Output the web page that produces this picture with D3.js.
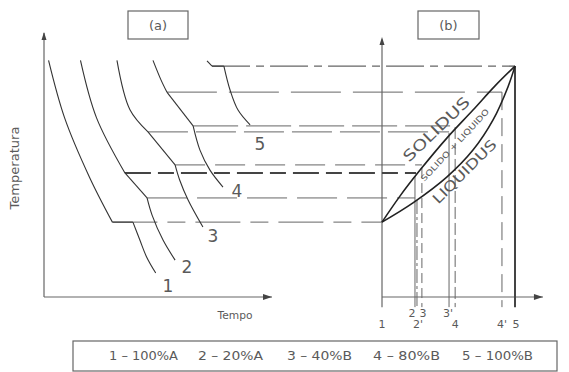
<!DOCTYPE html>
<html lang="pt">
<head>
<meta charset="UTF-8">
<title>Curvas de resfriamento e diagrama de fases</title>
<script src="https://d3js.org/d3.v7.min.js"></script>
<style>
  body { margin: 0; background: #fff; }
  text { font-family: "DejaVu Sans", sans-serif; fill: #5a5a5a; }
</style>
</head>
<body>
<svg width="569" height="372"></svg>
<script>
// (a) cooling curves: [tempo, temperatura], each curve split in pieces at the knees
const curve1 = [[[2, 91], [9, 69], [20, 46], [30, 28.8]], [[30, 28.8], [39, 28.8]], [[39, 28.8], [42, 22], [45, 15.4], [49, 9.2]]];
const curve2 = [[[16, 91], [23, 69], [35.5, 47.7]], [[35.5, 47.7], [45.2, 38.1]], [[45.2, 38.1], [47.4, 31.5], [52.2, 21.9], [57.5, 14.2]]];
const curve3 = [[[32, 91], [37.7, 72], [45.6, 63.5]], [[45.6, 63.5], [57.5, 50.8]], [[57.5, 50.8], [59.5, 45], [63.2, 37.3], [69.7, 26.9]]];
const curve4 = [[[47.8, 91], [51.3, 83.5], [53.9, 78.8]], [[53.9, 78.8], [65.4, 65.8]], [[65.4, 65.8], [68.4, 56.5], [72.8, 48.8], [78.5, 42.3]]];
const curve5 = [[[71.5, 90.8], [73.7, 88.8]], [[73.7, 88.8], [78.9, 88.8]], [[78.9, 88.8], [81.6, 79.6], [85.1, 71.9], [90.4, 66.2]]];
const curveNames = ["1", "2", "3", "4", "5"];
const curveNameAt = [[54.4, 1.9], [62.7, 9.2], [74.1, 21.2], [84.6, 38.5], [94.7, 56.5]];

// isotherms running from (a) into (b)
const isoTemp  = [88.8, 78.8, 65.8, 63.5, 50.8, 47.7, 38.1, 28.8];
const isoStart = [73.7, 53.9, 65.4, 45.6, 57.5, 35.5, 45.2, 30];   // tempo
const isoEnd   = [100, 90.2, 55, 50.4, 30, 25.6, 24.8, 0];         // %B

// (b) solidus / liquidus: [%B, temperatura]
const solidus  = [[0, 28.8], [13.5, 38.8], [28.6, 48.8], [48.9, 61.2], [68.4, 71.9], [85, 81.2], [100, 88.8]];
const liquidus = [[0, 28.8], [23.3, 36.2], [48.9, 46.2], [68.4, 56.5], [83.5, 68.1], [94.7, 80.8], [100, 88.8]];

// composition drop lines
const compNames = ["2", "2'", "3", "3'", "4", "4'", "5"];
const compB     = [24.8, 26.3, 30, 50.4, 55, 90.2, 100];
const compTop   = [46.5, 37.3, 49.6, 63.1, 65.4, 78.8, 88.8];

const legendItems = ["1 – 100%A", "2 – 20%A", "3 – 40%B", "4 – 80%B", "5 – 100%B"];

const svg = d3.select("svg");
const y  = d3.scaleLinear().domain([0, 100]).range([297, 37]);
const xa = d3.scaleLinear().domain([0, 100]).range([44, 272]);
const xb = d3.scaleLinear().domain([0, 100]).range([382, 515]);

const ink = "#333", thin = "#666";

function arrow(x, yy, dir) {
  const p = dir === "up" ? [[x, yy], [x - 2.5, yy + 8], [x + 2.5, yy + 8]]
                         : [[x, yy], [x - 9, yy - 3], [x - 9, yy + 3]];
  svg.append("path").attr("d", "M" + p.join("L") + "Z").attr("fill", "#444");
}

// ---- axes (a)
svg.append("line").attr("x1", xa(0)).attr("x2", xa(0)).attr("y1", y(0)).attr("y2", y(101.5))
  .attr("stroke", thin).attr("stroke-width", 1.2);
arrow(xa(0), y(101.9), "up");
svg.append("line").attr("x1", xa(0)).attr("x2", xa(100)).attr("y1", y(0)).attr("y2", y(0))
  .attr("stroke", thin).attr("stroke-width", 1.2);
arrow(xa(100), y(0), "right");

// ---- axes (b)
svg.append("line").attr("x1", xb(0)).attr("x2", xb(0)).attr("y1", y(-3.9)).attr("y2", y(99))
  .attr("stroke", thin).attr("stroke-width", 1.2);
arrow(xb(0), y(100), "up");
svg.append("line").attr("x1", xb(0)).attr("x2", xb(121)).attr("y1", y(0)).attr("y2", y(0))
  .attr("stroke", thin).attr("stroke-width", 1.2);
arrow(xb(121), y(0), "right");

// ---- isotherms
const isoDash = ["38,6,8,6", "50,12", "45,8", "40,8", "30,10", "26,7,16,7", "40,10", "45,10,18,10"];
const isoWidth = [1.4, 1, 1, 1, 1, 2, 1, 1];
isoTemp.forEach((t, i) => {
  svg.append("line")
    .attr("x1", xa(isoStart[i])).attr("x2", xb(isoEnd[i]))
    .attr("y1", y(t)).attr("y2", y(t))
    .attr("stroke", i === 5 ? "#444" : thin)
    .attr("stroke-width", isoWidth[i])
    .attr("stroke-dasharray", isoDash[i]);
});

// ---- cooling curves
const piece = d3.line().x(d => xa(d[0])).y(d => y(d[1])).curve(d3.curveCatmullRom);
[curve1, curve2, curve3, curve4, curve5].forEach(c => {
  c.forEach(seg => {
    svg.append("path").attr("d", piece(seg)).attr("fill", "none")
      .attr("stroke", ink).attr("stroke-width", 1.1);
  });
});
curveNames.forEach((n, i) => {
  svg.append("text").attr("x", xa(curveNameAt[i][0])).attr("y", y(curveNameAt[i][1]))
    .attr("text-anchor", "middle").attr("font-size", 17).text(n);
});

// ---- composition lines
const compDash = [null, "14,3,3,3", "10,5", null, "12,4", "18,8", null];
const compNameRow = [0, 1, 0, 0, 1, 1, 1];
const compNameDx = [-3, 1, 1, -1, 0, 0, 1];
compB.forEach((c, i) => {
  svg.append("line").attr("x1", xb(c)).attr("x2", xb(c))
    .attr("y1", y(compTop[i])).attr("y2", y(-3.9))
    .attr("stroke", i === 6 ? "#444" : thin)
    .attr("stroke-width", i === 6 ? 2 : 1)
    .attr("stroke-dasharray", compDash[i]);
  svg.append("text").attr("x", xb(c) + compNameDx[i]).attr("y", compNameRow[i] ? 328 : 317)
    .attr("text-anchor", "middle").attr("font-size", 11).text(compNames[i]);
});
svg.append("text").attr("x", xb(0)).attr("y", 328).attr("text-anchor", "middle")
  .attr("font-size", 11).text("1");

// ---- solidus / liquidus
const phase = d3.line().x(d => xb(d[0])).y(d => y(d[1])).curve(d3.curveCatmullRom);
[solidus, liquidus].forEach(p => {
  svg.append("path").attr("d", phase(p)).attr("fill", "none")
    .attr("stroke", "#222").attr("stroke-width", 1.6);
});

svg.append("text").attr("transform", "translate(440,133) rotate(-44)")
  .attr("text-anchor", "middle").attr("font-size", 15).attr("textLength", 86)
  .attr("lengthAdjust", "spacingAndGlyphs").text("SOLIDUS");
svg.append("text").attr("transform", "translate(468,175) rotate(-45)")
  .attr("text-anchor", "middle").attr("font-size", 14).attr("textLength", 84)
  .attr("lengthAdjust", "spacingAndGlyphs").text("LIQUIDUS");
svg.append("text").attr("transform", "translate(457,147) rotate(-47)")
  .attr("text-anchor", "middle").attr("font-size", 8).attr("textLength", 96)
  .attr("lengthAdjust", "spacingAndGlyphs").text("SOLIDO + LIQUIDO");

// ---- titles and axis names
[["(a)", 128, 60], ["(b)", 418, 61]].forEach(([t, x0, w]) => {
  svg.append("rect").attr("x", x0).attr("y", 11).attr("width", w).attr("height", 28)
    .attr("fill", "none").attr("stroke", thin).attr("stroke-width", 1.2);
  svg.append("text").attr("x", x0 + w / 2).attr("y", 30).attr("text-anchor", "middle")
    .attr("font-size", 13).text(t);
});
svg.append("text").attr("transform", "translate(19,168) rotate(-90)")
  .attr("text-anchor", "middle").attr("font-size", 12).attr("textLength", 83)
  .attr("lengthAdjust", "spacingAndGlyphs").text("Temperatura");
svg.append("text").attr("x", 235).attr("y", 319).attr("text-anchor", "middle")
  .attr("font-size", 10).attr("textLength", 35).attr("lengthAdjust", "spacingAndGlyphs")
  .text("Tempo");

// ---- legend
svg.append("rect").attr("x", 73).attr("y", 341).attr("width", 484).attr("height", 30)
  .attr("fill", "none").attr("stroke", thin).attr("stroke-width", 1.2);
const legX = [109, 198, 287, 373, 462];
const legW = [69, 65, 65, 67, 71];
legendItems.forEach((t, i) => {
  svg.append("text").attr("x", legX[i]).attr("y", 360).attr("font-size", 12)
    .attr("textLength", legW[i]).attr("lengthAdjust", "spacingAndGlyphs").text(t);
});
</script>
</body>
</html>
